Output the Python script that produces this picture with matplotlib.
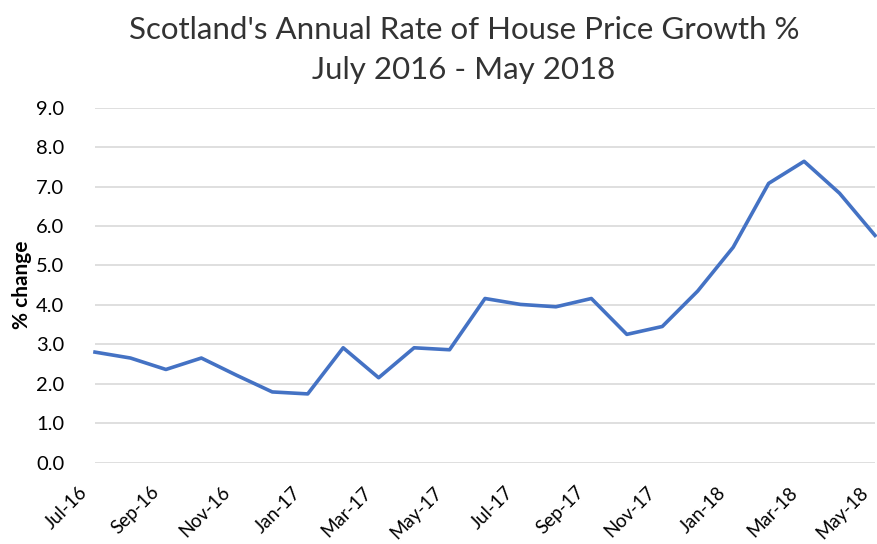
import matplotlib
matplotlib.use("Agg")
import matplotlib.pyplot as plt
from matplotlib.transforms import ScaledTranslation

months = ["Jul-16","Aug-16","Sep-16","Oct-16","Nov-16","Dec-16","Jan-17","Feb-17",
          "Mar-17","Apr-17","May-17","Jun-17","Jul-17","Aug-17","Sep-17","Oct-17",
          "Nov-17","Dec-17","Jan-18","Feb-18","Mar-18","Apr-18","May-18"]
growth = [2.80, 2.65, 2.36, 2.65, 2.21, 1.79, 1.74, 2.91, 2.15, 2.91, 2.86, 4.16,
          4.01, 3.95, 4.16, 3.25, 3.45, 4.35, 5.46, 7.08, 7.64, 6.83, 5.76]
yticks = [0, 1, 2, 3, 4, 5, 6, 7, 8, 9]

plt.rcParams['font.family'] = ['Lato', 'DejaVu Sans']

fig = plt.figure(figsize=(8.77, 5.44), dpi=100)
ax = fig.add_axes([95/877, 1-462.5/544, (875-95)/877, (462.5-107.7)/544])

x = list(range(len(months)))
ax.plot(x, growth, color="#4472C4", linewidth=2.6, solid_joinstyle="round", clip_on=False)

ax.set_xlim(0, len(months)-1)
ax.set_ylim(0, 9)
ax.set_yticks(yticks)
ax.set_yticklabels([f"{v:.1f}" for v in yticks], fontsize=14.5, color="#000000")
ax.set_xticks(x[::2])
ax.set_xticklabels([])
off = ScaledTranslation(-10/100, -27/100, fig.dpi_scale_trans)
for i in x[::2]:
    ax.text(i, 0, months[i], transform=ax.get_xaxis_transform() + off,
            rotation=45, ha="right", va="center", rotation_mode="anchor",
            fontsize=13.5, clip_on=False)
ax.tick_params(axis="both", length=0)
ax.tick_params(axis="y", pad=22)
ax.grid(axis="y", color="#D9D9D9", linewidth=1.2)
ax.set_axisbelow(True)
for s in ax.spines.values():
    s.set_visible(False)

fig.text(22/877, 1-285/544, "% change", rotation=90, ha="center", va="center",
         fontsize=15, fontweight="bold", color="#000000")
fig.text(464/877, 1-30/544, "Scotland's Annual Rate of House Price Growth %",
         ha="center", va="center", fontsize=22.5, color="#333333")
fig.text(464/877, 1-70/544, "July 2016 - May 2018",
         ha="center", va="center", fontsize=22.5, color="#333333")

fig.savefig("out.png", dpi=100)
